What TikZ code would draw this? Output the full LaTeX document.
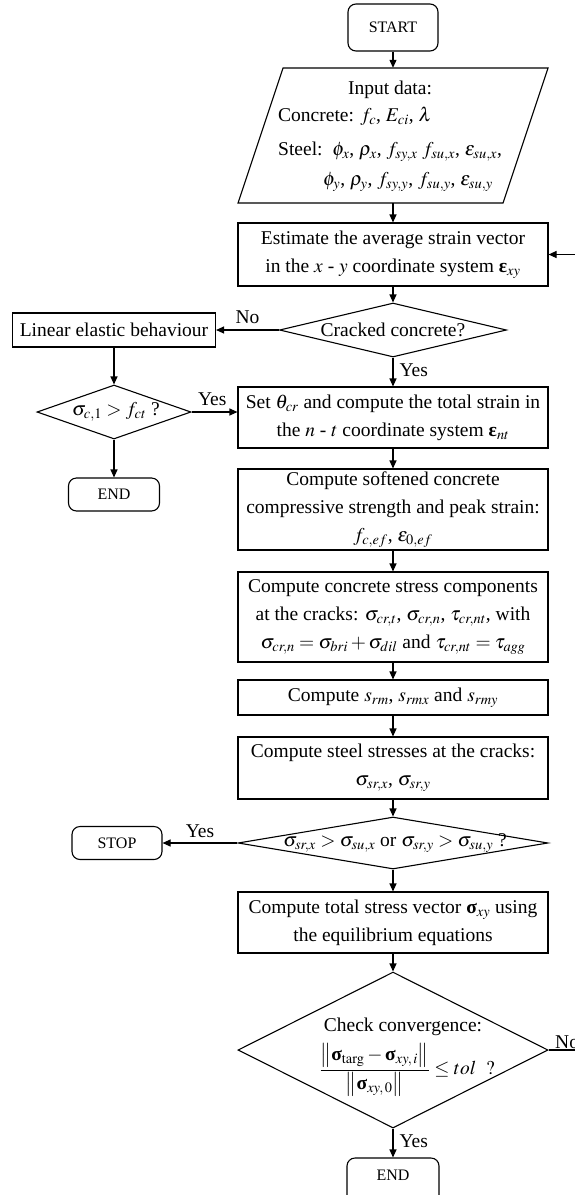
\documentclass[tikz,border=0pt]{standalone}
\usepackage{mathptmx}
\usepackage{fontspec}
\setmainfont{Liberation Serif}
\usetikzlibrary{arrows.meta,shapes.geometric}
\newcommand{\bsig}{\mbox{\bfseries σ}}
\newcommand{\beps}{\mbox{\bfseries ε}}
\begin{document}
\begin{tikzpicture}[x=1pt,y=-1pt,
  every node/.style={inner sep=0pt},
  mainfont/.style={font=\fontsize{19.5}{28}\selectfont},
  smallfont/.style={font=\fontsize{16}{19}\selectfont},
  proc/.style={draw, line width=1.1pt, rectangle, minimum width=310, align=center, mainfont},
  term/.style={draw, line width=1.1pt, rounded corners=8pt, align=center, smallfont},
  dec/.style={draw, line width=1.1pt, diamond},
  lbl/.style={mainfont},
  arr/.style={line width=1.1pt, -{Triangle[length=8pt,width=7pt]}},
]
\useasboundingbox (0,0) rectangle (575,1195);

% main column
\node[term, minimum width=90, minimum height=47] (start) at (393,27.5) {START};

\draw[line width=1.1pt] (283,68) -- (548,68) -- (503,203) -- (238,203) -- cycle;
\node[minimum width=220, minimum height=135] (inp) at (393,135.5) {};
\node[lbl] (inpa) at (390,90) {Input data:};
\node[lbl, anchor=west] (inpb) at (278,116) {Concrete: $f_c$, $E_{ci}$, $\lambda$};
\node[lbl, anchor=west] (inpc) at (278,152) {Steel:\enspace $\phi_x$, $\rho_x$, $f_{sy,x}$ $f_{su,x}$, $\varepsilon_{su,x}$,};
\node[lbl, anchor=west] (inpd) at (323,182) {$\phi_y$, $\rho_y$, $f_{sy,y}$, $f_{su,y}$, $\varepsilon_{su,y}$};

\node[proc, minimum height=63] (est) at (393,254.5) {Estimate the average strain vector\\in the $x$ - $y$ coordinate system $\beps_{xy}$};

\node[dec, minimum width=227, minimum height=54] (crack) at (393,330) {};
\node[lbl] (crackt) at (393,330) {Cracked concrete?};

\node[proc, minimum height=61] (set) at (393,417.5) {Set $\theta_{cr}$ and compute the total strain in\\the $n$ - $t$ coordinate system $\beps_{nt}$};

\node[proc, minimum height=81] (soft) at (393,509.5) {Compute softened concrete\\compressive strength and peak strain:\\$f_{c,ef}$, $\varepsilon_{0,ef}$};

\node[proc, minimum height=90] (comp) at (393,617) {Compute concrete stress components\\at the cracks: $\sigma_{cr,t}$, $\sigma_{cr,n}$, $\tau_{cr,nt}$, with\\$\sigma_{cr,n} = \sigma_{bri} + \sigma_{dil}$ and $\tau_{cr,nt} = \tau_{agg}$};

\node[proc, minimum height=35] (srm) at (393,697.5) {Compute $s_{rm}$, $s_{rmx}$ and $s_{rmy}$};

\node[proc, minimum height=62] (steel) at (393,768) {Compute steel stresses at the cracks:\\$\sigma_{sr,x}$, $\sigma_{sr,y}$};

\node[dec, minimum width=310, minimum height=52] (sig2) at (393,843) {};
\node[lbl] (sig2t) at (395,843) {$\sigma_{sr,x} > \sigma_{su,x}$ or $\sigma_{sr,y} > \sigma_{su,y}$ ?};

\node[proc, minimum height=61] (tot) at (393,922.5) {Compute total stress vector $\bsig_{xy}$ using\\the equilibrium equations};

\node[dec, minimum width=310, minimum height=156] (conv) at (393,1050) {};
\node[lbl] (convt) at (403,1027) {Check convergence:};
\node[lbl] (convf) at (407,1070) {$\displaystyle\frac{\left\|\bsig_{\mathrm{targ}}-\bsig_{xy,\,i}\right\|}{\left\|\bsig_{xy,\,0}\right\|}\le tol\ \ ?$};

\node[term, minimum width=92, minimum height=47] (end2) at (393,1181.5) {};
\node[smallfont] (end2t) at (393,1175) {END};

% left column
\node[proc, minimum width=203, minimum height=34] (lin) at (114,330) {Linear elastic behaviour};
\node[dec, minimum width=154, minimum height=54] (sig1) at (114,412) {};
\node[lbl] (sig1t) at (116,412) {$\sigma_{c,1} > f_{ct}$ ?};
\node[term, minimum width=91, minimum height=33] (end1) at (114,494.5) {END};
\node[term, minimum width=90, minimum height=33] (stop) at (117,843) {STOP};

% connectors
\draw[arr] (start) -- (inp.north);
\draw[arr] (inp.south) -- (est);
\draw[arr] (est) -- (crack);
\draw[arr] (crack.west) -- (crack.west -| lin.east) node[lbl, pos=0.5, above=6pt] (lno) {No};
\draw[arr] (crack.south) -- (set.north) node[lbl, pos=0.45, right=6pt] (lyes1) {Yes};
\draw[arr] (lin) -- (sig1.north);
\draw[arr] (sig1.east) -- (sig1.east -| set.west) node[lbl, pos=0.45, above=6pt] (lyes2) {Yes};
\draw[arr] (sig1.south) -- (end1.north);
\draw[arr] (set) -- (soft);
\draw[arr] (soft) -- (comp);
\draw[arr] (comp) -- (srm);
\draw[arr] (srm) -- (steel);
\draw[arr] (steel) -- (sig2.north);
\draw[arr] (sig2.west) -- (sig2.west -| stop.east) node[lbl, pos=0.5, above=5pt] (lyes3) {Yes};
\draw[arr] (sig2.south) -- (tot.north);
\draw[arr] (tot) -- (conv.north);
\draw[arr] (conv.south) -- (end2.north) node[lbl, pos=0.45, right=6pt] (lyes4) {Yes};
\draw[arr] (conv.east) -- ++(60,0) coordinate (loopc) |- (est.east);
\node[lbl, anchor=south west] (lno2) at (555,1049) {No};
\end{tikzpicture}
\end{document}
